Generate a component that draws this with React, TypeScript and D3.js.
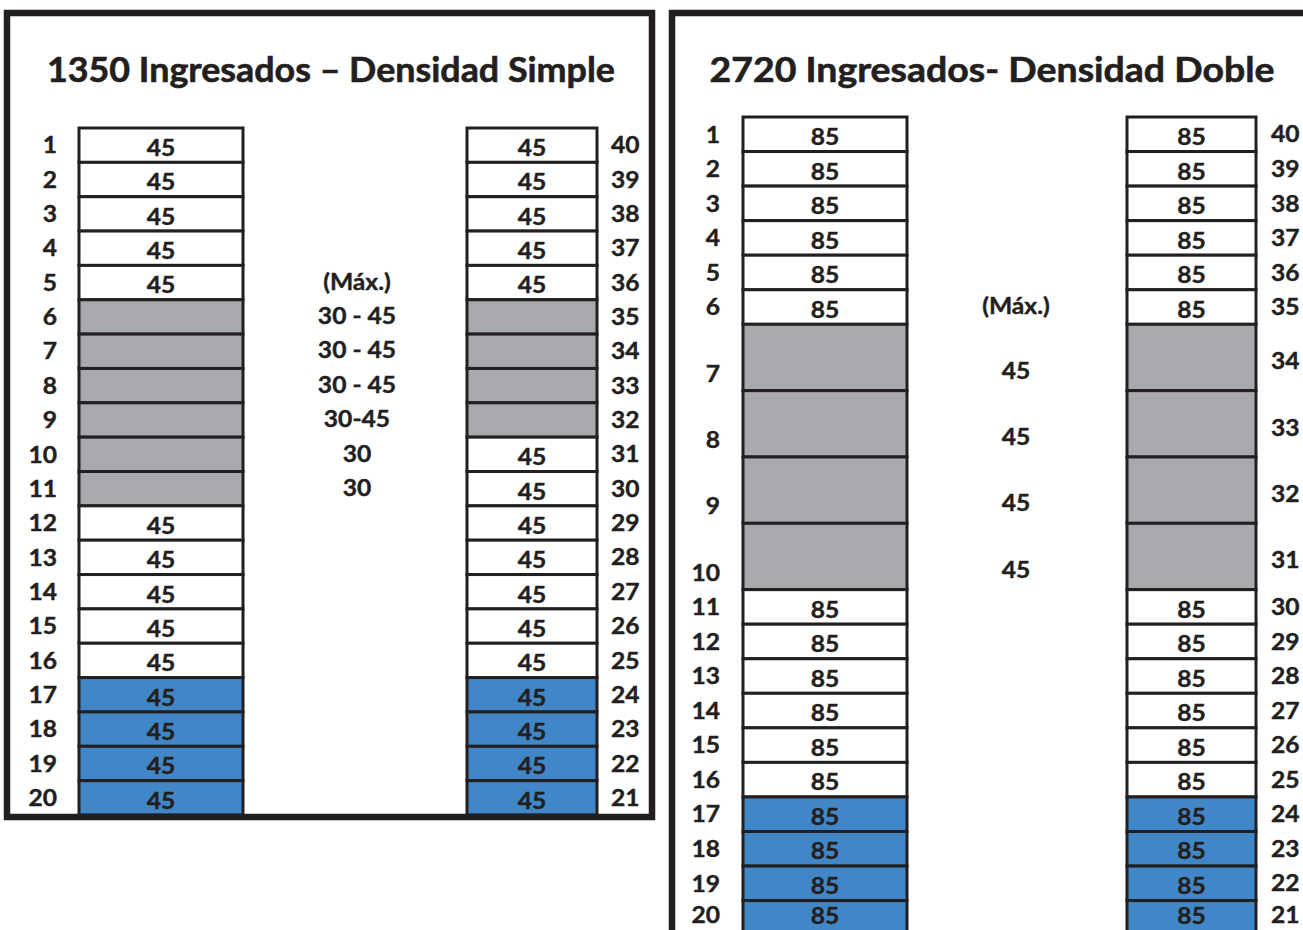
import * as d3 from "d3";
import { useEffect, useRef } from "react";

type Cell = "white" | "gray" | "blue";

// ---- Densidad simple ----
const simpleTitle = "1350 Ingresados – Densidad Simple";
const simpleLeftNums = [1, 2, 3, 4, 5, 6, 7, 8, 9, 10, 11, 12, 13, 14, 15, 16, 17, 18, 19, 20];
const simpleLeftVals = ["45", "45", "45", "45", "45", "", "", "", "", "", "", "45", "45", "45", "45", "45", "45", "45", "45", "45"];
const simpleLeftFill: Cell[] = [
  "white", "white", "white", "white", "white",
  "gray", "gray", "gray", "gray", "gray", "gray",
  "white", "white", "white", "white", "white",
  "blue", "blue", "blue", "blue",
];
const simpleRightNums = [40, 39, 38, 37, 36, 35, 34, 33, 32, 31, 30, 29, 28, 27, 26, 25, 24, 23, 22, 21];
const simpleRightVals = ["45", "45", "45", "45", "45", "", "", "", "", "45", "45", "45", "45", "45", "45", "45", "45", "45", "45", "45"];
const simpleRightFill: Cell[] = [
  "white", "white", "white", "white", "white",
  "gray", "gray", "gray", "gray",
  "white", "white", "white", "white", "white", "white", "white",
  "blue", "blue", "blue", "blue",
];
const simpleMid = ["", "", "", "", "(Máx.)", "30 - 45", "30 - 45", "30 - 45", "30-45", "30", "30", "", "", "", "", "", "", "", "", ""];
const simpleSlots = [1, 1, 1, 1, 1, 1, 1, 1, 1, 1, 1, 1, 1, 1, 1, 1, 1, 1, 1, 1];

// ---- Densidad doble ----
const doubleTitle = "2720 Ingresados- Densidad Doble";
const doubleLeftNums = [1, 2, 3, 4, 5, 6, 7, 8, 9, 10, 11, 12, 13, 14, 15, 16, 17, 18, 19, 20];
const doubleLeftVals = ["85", "85", "85", "85", "85", "85", "", "", "", "", "85", "85", "85", "85", "85", "85", "85", "85", "85", "85"];
const doubleLeftFill: Cell[] = [
  "white", "white", "white", "white", "white", "white",
  "gray", "gray", "gray", "gray",
  "white", "white", "white", "white", "white", "white",
  "blue", "blue", "blue", "blue",
];
const doubleRightNums = [40, 39, 38, 37, 36, 35, 34, 33, 32, 31, 30, 29, 28, 27, 26, 25, 24, 23, 22, 21];
const doubleRightVals = ["85", "85", "85", "85", "85", "85", "", "", "", "", "85", "85", "85", "85", "85", "85", "85", "85", "85", "85"];
const doubleRightFill: Cell[] = doubleLeftFill;
const doubleMid = ["", "", "", "", "", "(Máx.)", "45", "45", "45", "45", "", "", "", "", "", "", "", "", "", ""];
const doubleSlots = [1, 1, 1, 1, 1, 1, 2, 2, 2, 2, 1, 1, 1, 1, 1, 1, 1, 1, 1, 1];

// ---- styles ----
const INK = "#231f20";
const FILL: Record<Cell, string> = { white: "#ffffff", gray: "#a7a9ac", blue: "#4187c7" };
const FONT = "Lato, 'Open Sans', sans-serif";
const DOUBLE_SLOT = 1.92; // a double row is drawn a bit shorter than two rows
const SX = 1.12; // the source lettering is a little wider than Lato

type Panel = {
  title: string;
  leftNums: number[];
  leftVals: string[];
  leftFill: Cell[];
  rightNums: number[];
  rightVals: string[];
  rightFill: Cell[];
  mid: string[];
  slots: number[];
  frame: [number, number, number, number];
  titleX: number;
  titleW: number;
  top: number;
  unit: number;
  leftCol: [number, number];
  rightCol: [number, number];
  leftLabelX: number;
  rightLabelX: number;
  midX: number;
};

const panels: Panel[] = [
  {
    title: simpleTitle,
    leftNums: simpleLeftNums,
    leftVals: simpleLeftVals,
    leftFill: simpleLeftFill,
    rightNums: simpleRightNums,
    rightVals: simpleRightVals,
    rightFill: simpleRightFill,
    mid: simpleMid,
    slots: simpleSlots,
    frame: [7, 13, 652, 817],
    titleX: 331,
    titleW: 568,
    top: 128,
    unit: 34.35,
    leftCol: [79, 243],
    rightCol: [467, 597],
    leftLabelX: 57,
    rightLabelX: 611,
    midX: 357,
  },
  {
    title: doubleTitle,
    leftNums: doubleLeftNums,
    leftVals: doubleLeftVals,
    leftFill: doubleLeftFill,
    rightNums: doubleRightNums,
    rightVals: doubleRightVals,
    rightFill: doubleRightFill,
    mid: doubleMid,
    slots: doubleSlots,
    frame: [672, 13, 1340, 980],
    titleX: 992,
    titleW: 565,
    top: 117,
    unit: 34.55,
    leftCol: [743, 907],
    rightCol: [1127, 1256],
    leftLabelX: 720,
    rightLabelX: 1271,
    midX: 1016,
  },
];

const W = 1303;
const H = 930;

const at = (x: number, y: number) => `translate(${x},${y}) scale(${SX},1)`;

const App = () => {
  const ref = useRef<SVGSVGElement | null>(null);

  useEffect(() => {
    if (!ref.current) return;
    const svg = d3.select(ref.current);
    svg.selectAll("*").remove();

    svg.append("rect").attr("width", W).attr("height", H).attr("fill", "#fff");

    panels.forEach((p) => {
      const g = svg
        .append("g")
        .attr("font-family", FONT)
        .attr("font-weight", 700)
        .attr("fill", INK);
      const [fx0, fy0, fx1, fy1] = p.frame;

      const units = p.slots.map((s) => (s === 2 ? DOUBLE_SLOT : 1));
      const starts = units.map((_, i) => d3.sum(units.slice(0, i)));
      const total = d3.sum(units);
      const y = d3
        .scaleLinear()
        .domain([0, total])
        .range([p.top, p.top + total * p.unit]);

      const rows = p.leftNums.map((_, i) => ({
        i,
        y0: y(starts[i]),
        y1: y(starts[i] + units[i]),
        double: p.slots[i] === 2,
      }));

      // columns of boxes
      const columns = [
        { x: p.leftCol, vals: p.leftVals, fill: p.leftFill },
        { x: p.rightCol, vals: p.rightVals, fill: p.rightFill },
      ];
      columns.forEach((c) => {
        const cg = g.append("g");
        cg.selectAll("rect")
          .data(rows)
          .join("rect")
          .attr("x", c.x[0])
          .attr("width", c.x[1] - c.x[0])
          .attr("y", (d) => d.y0)
          .attr("height", (d) => d.y1 - d.y0)
          .attr("fill", (d) => FILL[c.fill[d.i]])
          .attr("stroke", INK)
          .attr("stroke-width", 3);
        cg.selectAll("text")
          .data(rows.filter((d) => c.vals[d.i] !== ""))
          .join("text")
          .attr("transform", (d) => at((c.x[0] + c.x[1]) / 2, Math.min(d.y0 + 28, H - 6)))
          .attr("text-anchor", "middle")
          .attr("font-size", 22)
          .attr("stroke", INK)
          .attr("stroke-width", 0.4)
          .text((d) => c.vals[d.i]);
      });

      // row numbers
      g.append("g")
        .selectAll("text")
        .data(rows)
        .join("text")
        .attr("transform", (d) => at(p.leftLabelX, Math.min(d.y1 - 9, H - 7)))
        .attr("text-anchor", "end")
        .attr("font-size", 22)
        .attr("stroke", INK)
        .attr("stroke-width", 0.4)
        .text((d) => p.leftNums[d.i]);

      g.append("g")
        .selectAll("text")
        .data(rows)
        .join("text")
        .attr("transform", (d) => at(p.rightLabelX, Math.min(d.y0 + (d.y1 - d.y0) * 0.62 + 4, H - 7)))
        .attr("text-anchor", "start")
        .attr("font-size", 22)
        .attr("stroke", INK)
        .attr("stroke-width", 0.4)
        .text((d) => p.rightNums[d.i]);

      // middle notes
      g.append("g")
        .selectAll("text")
        .data(rows.filter((d) => p.mid[d.i] !== ""))
        .join("text")
        .attr("transform", (d) => at(p.midX, d.y1 - (d.double ? 12 : 10)))
        .attr("text-anchor", "middle")
        .attr("font-size", 22)
        .attr("stroke", INK)
        .attr("stroke-width", 0.4)
        .text((d) => p.mid[d.i]);

      // title
      g.append("text")
        .attr("x", p.titleX - p.titleW / 2)
        .attr("y", 82)
        .attr("font-size", 35)
        .attr("textLength", p.titleW)
        .attr("lengthAdjust", "spacingAndGlyphs")
        .attr("stroke", INK)
        .attr("stroke-width", 0.6)
        .text(p.title);

      // frame
      g.append("rect")
        .attr("x", fx0)
        .attr("y", fy0)
        .attr("width", fx1 - fx0)
        .attr("height", fy1 - fy0)
        .attr("fill", "none")
        .attr("stroke", INK)
        .attr("stroke-width", 6.5);
    });
  }, []);

  return (
    <svg
      ref={ref}
      width={W}
      height={H}
      style={{ position: "absolute", left: 0, top: 0, display: "block" }}
    />
  );
};

export default App;
